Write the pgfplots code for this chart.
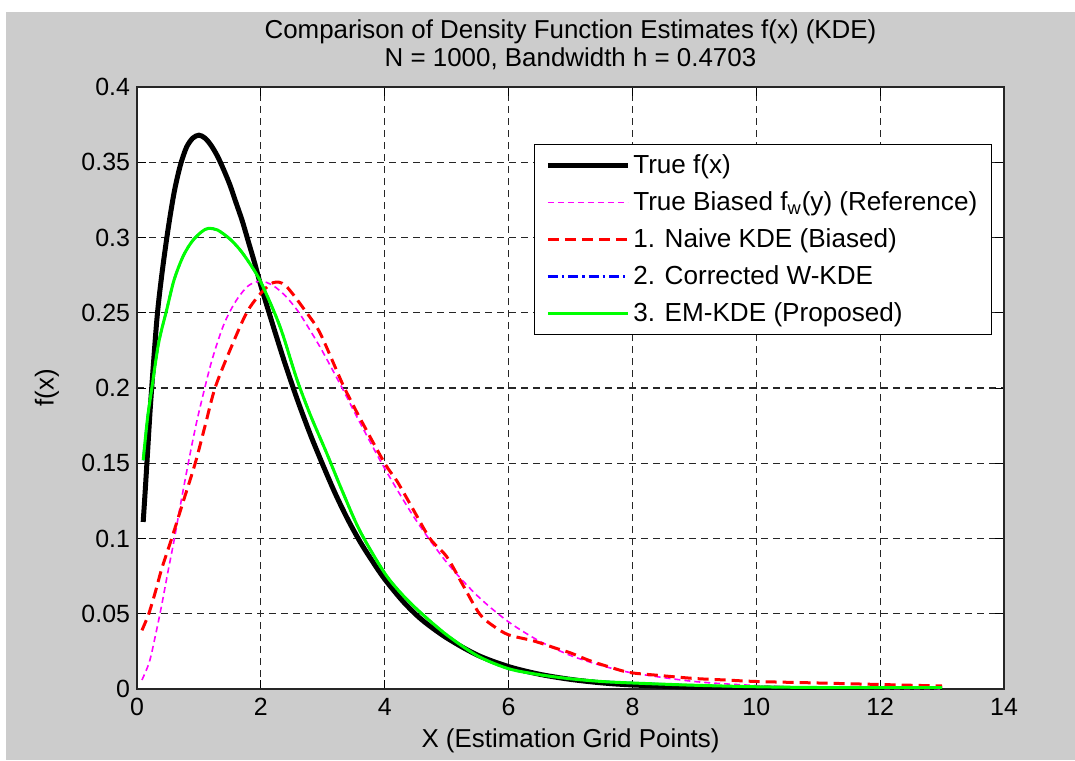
\documentclass[border=0pt]{standalone}
\usepackage{fontspec}
\setmainfont{Liberation Sans}
\usepackage{pgfplots}
\usepackage{pgfplotstable}
\pgfplotsset{compat=1.18}

\definecolor{figgray}{RGB}{204,204,204}
\definecolor{mlgreen}{RGB}{0,255,0}
\definecolor{mlmagenta}{RGB}{255,0,255}
\definecolor{mlred}{RGB}{255,0,0}
\definecolor{mlblue}{RGB}{0,0,255}

% true density f(x)
\pgfplotstableread{
x y
0.10 0.111
0.13 0.130
0.16 0.150
0.22 0.190
0.32 0.245
0.40 0.275
0.50 0.305
0.60 0.330
0.70 0.348
0.80 0.360
0.90 0.366
1.00 0.368
1.10 0.366
1.20 0.361
1.30 0.354
1.40 0.345
1.50 0.335
1.60 0.323
1.70 0.311
1.80 0.297
1.90 0.283
2.00 0.268
2.20 0.241
2.40 0.215
2.60 0.191
2.80 0.169
3.00 0.149
3.20 0.130
3.40 0.113
3.60 0.098
3.80 0.085
4.00 0.073
4.30 0.058
4.60 0.046
5.00 0.034
5.50 0.0225
6.00 0.0149
6.50 0.0098
7.00 0.0064
7.50 0.0041
8.00 0.0027
9.00 0.0011
10.0 0.0005
11.0 0.0002
12.0 0.0001
13.0 0.0001
}\truef

% true biased density f_w(y)
\pgfplotstableread{
x y
0.08 0.006
0.20 0.018
0.30 0.036
0.40 0.056
0.50 0.078
0.60 0.099
0.70 0.122
0.80 0.144
0.90 0.165
1.00 0.184
1.20 0.217
1.40 0.242
1.60 0.258
1.80 0.268
2.00 0.271
2.20 0.268
2.40 0.261
2.60 0.251
2.80 0.238
3.00 0.224
3.30 0.201
3.60 0.177
4.00 0.1465
4.50 0.1125
5.00 0.0842
5.50 0.0618
6.00 0.0446
6.50 0.0318
7.00 0.0223
7.50 0.0156
8.00 0.0107
9.00 0.0050
10.0 0.0023
11.0 0.0010
12.0 0.0004
13.0 0.0002
}\biased

% naive KDE
\pgfplotstableread{
x y
0.08 0.039
0.19 0.050
0.30 0.065
0.40 0.080
0.56 0.100
0.75 0.125
0.94 0.150
1.10 0.175
1.26 0.200
1.50 0.225
1.77 0.250
2.00 0.263
2.20 0.270
2.40 0.268
2.74 0.250
2.95 0.237
3.22 0.212
3.35 0.200
3.60 0.180
4.00 0.150
4.20 0.138
4.45 0.120
4.73 0.100
5.00 0.088
5.25 0.070
5.53 0.050
5.75 0.042
6.00 0.036
6.40 0.032
6.77 0.027
7.00 0.024
7.30 0.019
7.60 0.015
7.95 0.011
8.44 0.009
9.00 0.007
9.50 0.006
10.0 0.005
11.0 0.004
12.0 0.003
13.0 0.002
}\naive

% EM-KDE (the corrected W-KDE lies under it)
\pgfplotstableread{
x y
0.10 0.152
0.17 0.180
0.24 0.200
0.35 0.230
0.48 0.252
0.60 0.272
0.75 0.288
0.90 0.298
1.05 0.304
1.15 0.306
1.30 0.305
1.50 0.299
1.66 0.292
1.80 0.284
1.98 0.272
2.20 0.252
2.35 0.236
2.58 0.206
2.80 0.182
3.06 0.157
3.30 0.133
3.60 0.105
4.00 0.077
4.30 0.062
4.60 0.050
5.00 0.036
5.50 0.022
6.00 0.0135
6.50 0.0095
7.00 0.0068
7.50 0.0050
8.00 0.0040
9.00 0.0025
10.0 0.0015
11.0 0.0010
12.0 0.0010
13.0 0.0010
}\emkde

\begin{document}
\begin{tikzpicture}[x=1bp,y=1bp]
% figure window
\fill[white] (-68.5,-35.5) rectangle (469,344.5);
\fill[figgray] (-65.5,-35.5) rectangle (469,338.5);
\begin{axis}[
    at={(0,0)}, anchor=south west,
    scale only axis, width=433.5bp, height=301bp,
    axis background/.style={fill=white},
    xmin=0, xmax=14, ymin=0, ymax=0.4,
    xtick={0,2,4,6,8,10,12,14},
    xticklabels={0,2,4,6,8,10,12,14},
    ytick={0,0.05,0.1,0.15,0.2,0.25,0.3,0.35,0.4},
    yticklabels={0,0.05,0.1,0.15,0.2,0.25,0.3,0.35,0.4},
    tick align=inside, major tick length=4.5bp,
    tick style={black, line width=0.5bp},
    axis line style={black!85, line width=0.6bp},
    grid=major,
    major grid style={black!85, line width=0.6bp, dash pattern=on 3.5bp off 2.5bp},
    ticklabel style={font=\fontsize{12.5}{14}\selectfont},
    xticklabel style={yshift=-1bp},
    title={Comparison of Density Function Estimates f(x) (KDE)\\N = 1000, Bandwidth h = 0.4703},
    title style={at={(axis description cs:0.5,1)}, anchor=south, yshift=2.3bp,
        inner sep=0pt, align=center, font=\fontsize{13}{14}\selectfont},
    xlabel={X (Estimation Grid Points)},
    xlabel style={at={(axis description cs:0.5,-0.0864)}, anchor=center,
        font=\fontsize{13}{15}\selectfont},
    ylabel={f(x)},
    ylabel style={at={(axis description cs:-0.1038,0.5)}, anchor=center,
        font=\fontsize{13}{15}\selectfont},
    legend image code/.code={\draw[#1] (0bp,0bp) -- (40bp,0bp);},
    legend style={at={(rel axis cs:0.986,0.905)}, anchor=north east,
        draw=black, line width=0.6bp, fill=white,
        font=\fontsize{13.1}{15}\selectfont,
        inner xsep=5.5bp, inner ysep=3.5bp, row sep=4.5bp,
        nodes={inner sep=1.5bp}},
    legend cell align=left,
]
\addplot[black, line width=2.5bp, smooth] table {\truef};
\addlegendentry{True f(x)}
\addplot[mlmagenta, line width=0.8bp, dash pattern=on 3bp off 2bp, smooth] table {\biased};
\addlegendentry{True Biased f\textsubscript{w}(y) (Reference)}
\addplot[mlred, line width=1.5bp, dash pattern=on 5.5bp off 3bp, smooth] table {\naive};
\addlegendentry{1. Naive KDE (Biased)}
\addplot[mlblue, line width=1.2bp, dash pattern=on 5bp off 2bp on 1.2bp off 2bp, smooth] table {\emkde};
\addlegendentry{2. Corrected W-KDE}
\addplot[mlgreen, line width=1.5bp, smooth] table {\emkde};
\addlegendentry{3. EM-KDE (Proposed)}
\end{axis}
\end{tikzpicture}
\end{document}
